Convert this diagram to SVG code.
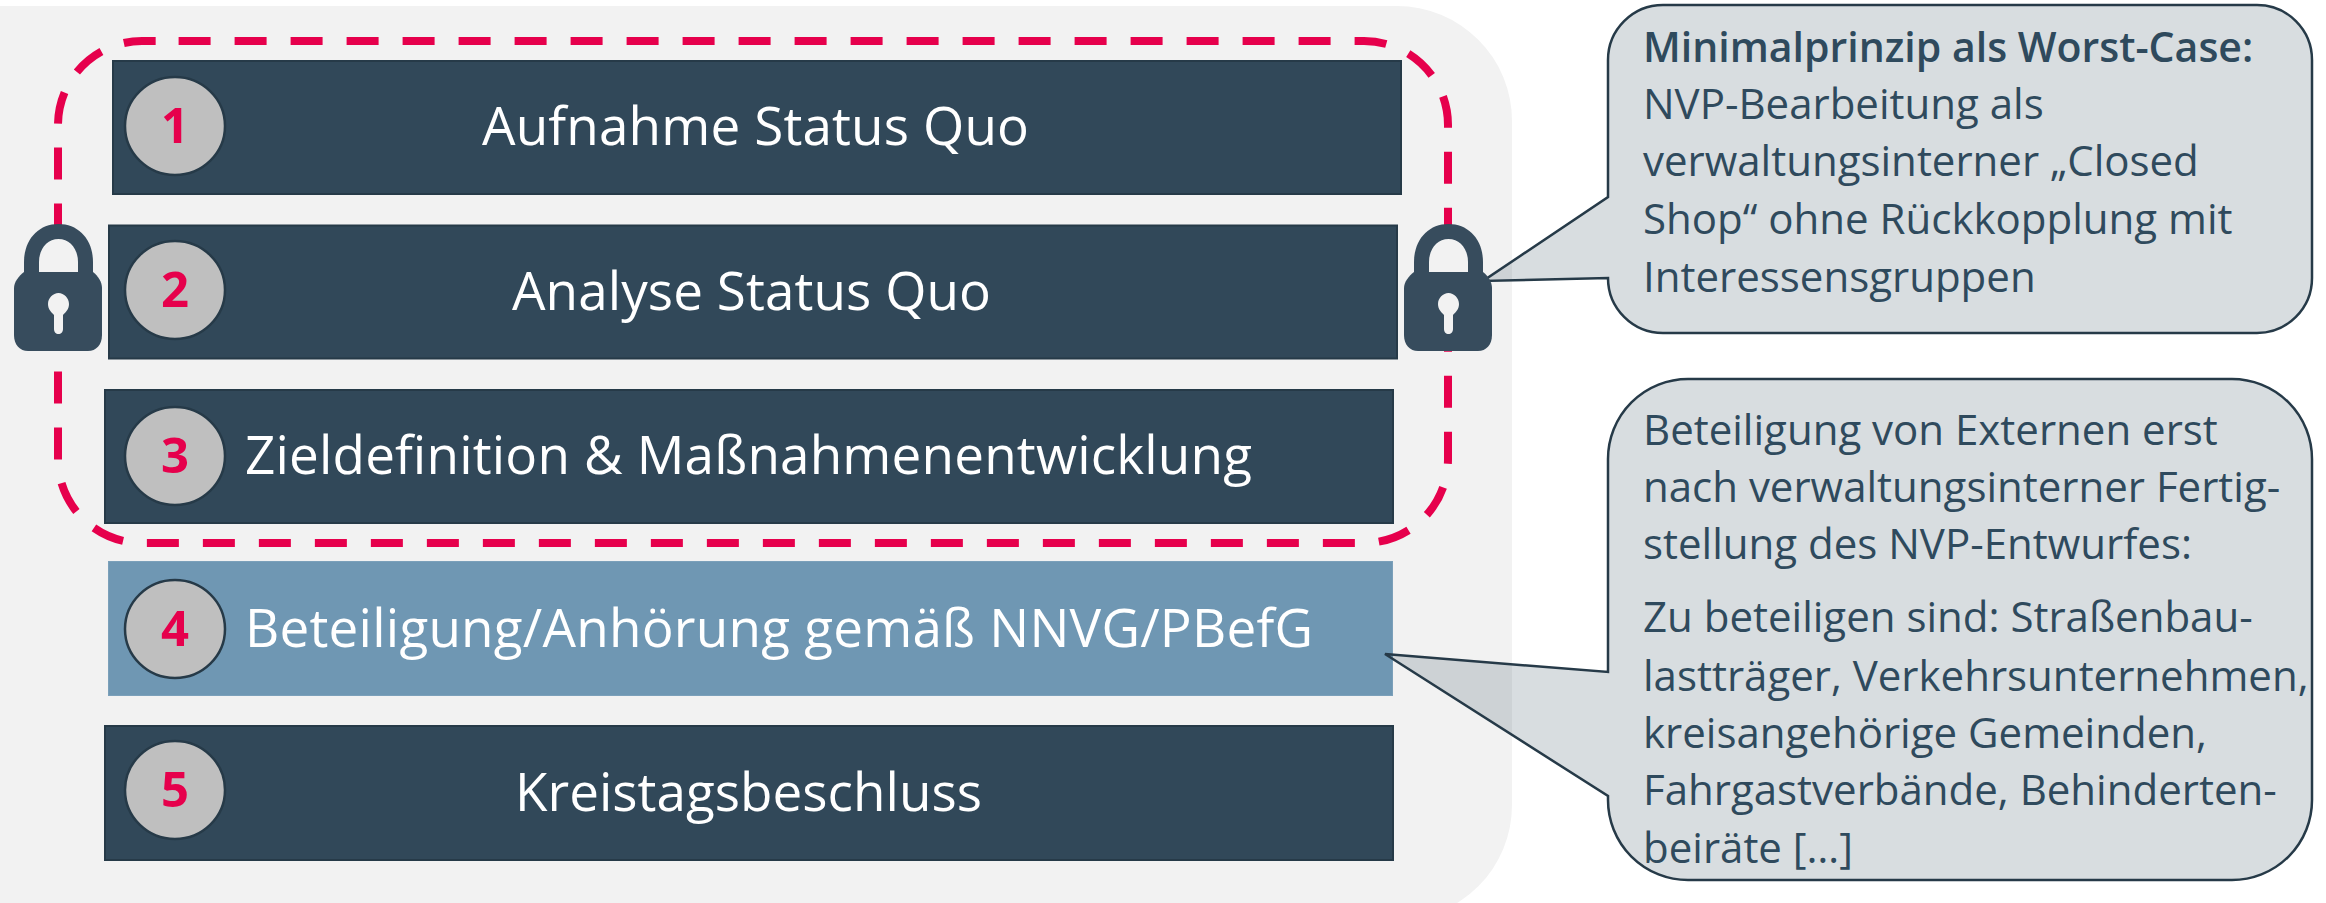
<svg xmlns="http://www.w3.org/2000/svg" width="2326" height="903" viewBox="0 0 2326 903">
<style>
.bar{fill:#314859;stroke:#263a48;stroke-width:2}
.blue{fill:#6f97b3;stroke:#7ba0ba;stroke-width:1}
.dot{fill:#bfbfbf;stroke:#263a48;stroke-width:2.5}
.num{font:700 49px "Open Sans","Noto Sans",sans-serif;fill:#e6004c;text-anchor:middle}
.lbl{font:400 53px "Open Sans","Noto Sans",sans-serif;fill:#fff}
.call{fill:#314859;fill-opacity:.19;stroke:#263a48;stroke-width:2.5;stroke-linejoin:miter}
.txt{font:400 42px "Open Sans","Noto Sans",sans-serif;fill:#2f4a5d}
.b{font-size:41px;font-weight:600}
.lock{fill:#374c5d}
.hole{fill:#f2f2f2}
</style>
<defs>
<g id="lockshape">
<path class="lock" d="M24,274V262C24,240 38,224 58.500,224C79,224 93,240 93,262V274Z"/>
<path class="hole" d="M39,272V262C39,249 47,239 58.500,239C70,239 78,249 78,262V272Z"/>
<path class="lock" d="M24,272H93C98,276 102,282 102,288V335C102,345 96,351 88,351H28C20,351 14,345 14,335V288C14,282 19,276 24,272Z"/>
<path class="hole" d="M58.500,293C64,293 69,298 69,304C69,309 66,312 63,315V329C63,332 61,334 58.500,334C56,334 54,332 54,329V315C51,312 48,309 48,304C48,298 53,293 58.500,293Z"/>
</g>
</defs>
<path id="panel" fill="#f2f2f2" d="M0,6H1397A115,115 0 0 1 1512,121V805A115,115 0 0 1 1397,920H0Z"/>

<g id="connectors">
<path fill="none" stroke="#e6004c" stroke-width="8" stroke-dasharray="32 24" d="M178.600,41H1364A84,84 0 0 1 1448,125V459A84,84 0 0 1 1364,543H142A84,84 0 0 1 58,459V125A84,84 0 0 1 142,41H178.600"/>
</g>

<g id="step1">
<rect class="bar" x="113" y="61" width="1288" height="133"/>
<ellipse class="dot" cx="175" cy="126" rx="50" ry="49"/>
<text class="num" x="175" y="143">1</text>
<text class="lbl" x="482" y="145" textLength="547">Aufnahme Status Quo</text>
</g>
<g id="step2">
<rect class="bar" x="109" y="225.500" width="1288" height="133"/>
<ellipse class="dot" cx="175" cy="290" rx="50" ry="49"/>
<text class="num" x="175" y="307">2</text>
<text class="lbl" x="512" y="310" textLength="479">Analyse Status Quo</text>
</g>
<g id="step3">
<rect class="bar" x="105" y="390" width="1288" height="133"/>
<ellipse class="dot" cx="175" cy="456" rx="50" ry="49"/>
<text class="num" x="175" y="473">3</text>
<text class="lbl" x="245" y="474" textLength="1007">Zieldefinition &amp; Maßnahmenentwicklung</text>
</g>
<g id="step4">
<rect class="blue" x="108.500" y="561.500" width="1284" height="134"/>
<ellipse class="dot" cx="175" cy="629" rx="50" ry="49"/>
<text class="num" x="175" y="646">4</text>
<text class="lbl" x="245" y="647" textLength="1068">Beteiligung/Anhörung gemäß NNVG/PBefG</text>
</g>
<g id="step5">
<rect class="bar" x="105" y="726" width="1288" height="134"/>
<ellipse class="dot" cx="175" cy="790" rx="50" ry="49"/>
<text class="num" x="175" y="807">5</text>
<text class="lbl" x="515" y="811" textLength="467">Kreistagsbeschluss</text>
</g>

<g id="callout1">
<path class="call" d="M1663,5H2257A55,55 0 0 1 2312,60V278A55,55 0 0 1 2257,333H1663A55,55 0 0 1 1608,278L1483,281L1608,197V60A55,55 0 0 1 1663,5Z"/>
<text class="txt"><tspan class="b" x="1643" y="62">Minimalprinzip als Worst-Case:</tspan><tspan x="1643" y="119">NVP-Bearbeitung als</tspan><tspan x="1643" y="176">verwaltungsinterner „Closed</tspan><tspan x="1643" y="234">Shop“ ohne Rückkopplung mit</tspan><tspan x="1643" y="292">Interessensgruppen</tspan></text>
</g>
<g id="callout2">
<path class="call" d="M1688,379H2232A80,80 0 0 1 2312,459V800A80,80 0 0 1 2232,880H1688A80,80 0 0 1 1608,800V796L1385,654L1608,672V459A80,80 0 0 1 1688,379Z"/>
<text class="txt"><tspan x="1643" y="445">Beteiligung von Externen erst</tspan><tspan x="1643" y="502">nach verwaltungsinterner Fertig-</tspan><tspan x="1643" y="559">stellung des NVP-Entwurfes:</tspan><tspan x="1643" y="632">Zu beteiligen sind: Straßenbau-</tspan><tspan x="1643" y="691">lastträger, Verkehrsunternehmen,</tspan><tspan x="1643" y="748">kreisangehörige Gemeinden,</tspan><tspan x="1643" y="805">Fahrgastverbände, Behinderten-</tspan><tspan x="1643" y="863">beiräte […]</tspan></text>
</g>

<g id="lock-left"><use href="#lockshape"/></g>
<g id="lock-right"><use href="#lockshape" x="1390"/></g>
</svg>
